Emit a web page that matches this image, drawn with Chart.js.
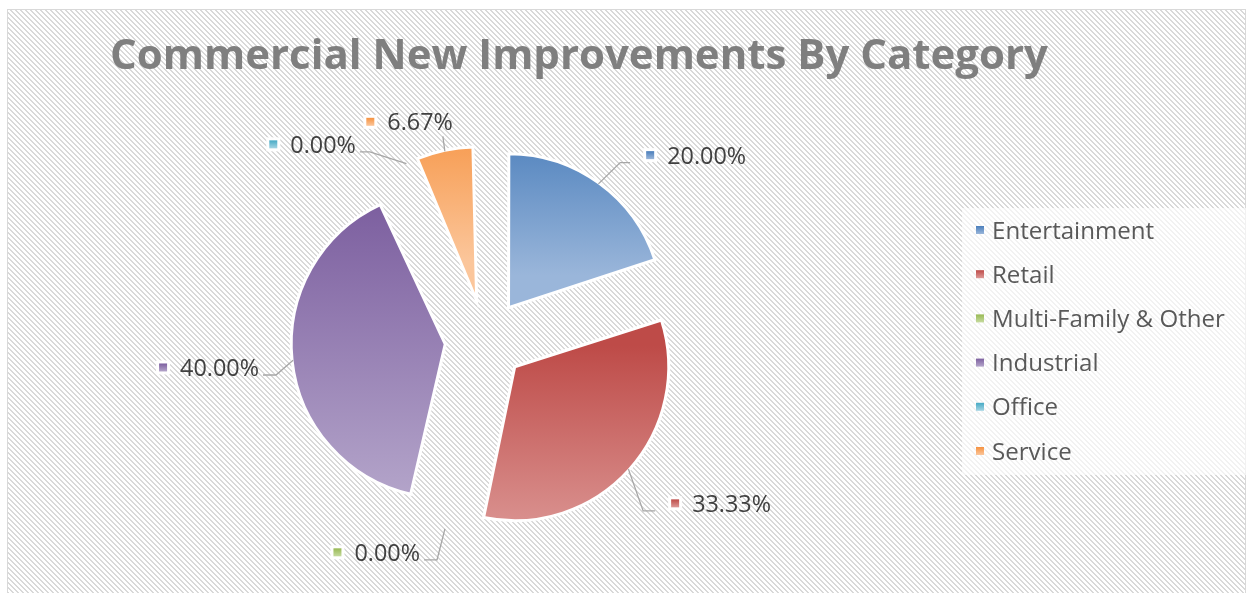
<!DOCTYPE html>
<html>
<head>
<meta charset="utf-8">
<title>Commercial New Improvements By Category</title>
<script src="https://cdn.jsdelivr.net/npm/chart.js@4.4.1/dist/chart.umd.min.js"></script>
<style>
  html, body { margin: 0; padding: 0; background: #fff; }
  #wrap { width: 1253px; height: 593px; }
</style>
</head>
<body>
<div id="wrap"><canvas id="pie" width="1253" height="593"></canvas></div>
<script>
const titleText = 'Commercial New Improvements By Category';
const categories = ['Entertainment', 'Retail', 'Multi-Family & Other', 'Industrial', 'Office', 'Service'];
const shares = [20.00, 33.33, 0.00, 40.00, 0.00, 6.67];

// office-style colours, darker at the top of each slice, lighter at the bottom
const topColors = ['#4a7ebb', '#be4b48', '#98b954', '#7d60a0', '#46aac5', '#f69240'];
const bottomColors = ['#9ab6da', '#dd9a98', '#c6db9f', '#b4a5ca', '#a5d5e4', '#fbc69b'];

const RADIUS = 154;   // arc radius incl. half of the white border
const RIM = 153;      // visible rim, where leader lines start
const EXPLODE = 40;
const FONT = "'Open Sans', sans-serif";

// where each data label sits: angle tweak (deg), leader length past the rim, horizontal run
const callouts = [
  { da: 1.6, dr: 30, run: 10, side: 'right', v: 'bottom' },
  { da: 6.3, dr: 40, run: 12, side: 'right', v: 'bottom' },
  { da: 0.4, dr: 32, run: -13, side: 'left', v: 'bottom' },
  { da: -4.3, dr: 19, run: -13, side: 'left', v: 'bottom' },
  { da: -9.1, dr: 28, run: -10, side: 'left', v: 'bottom' },
  { da: 0.4, dr: 15, run: 0, side: 'up', v: 'up' }
];

const total = shares.reduce((a, b) => a + b, 0);

function fitSize(ctx, text, width, weight) {
  ctx.font = weight + ' 100px ' + FONT;
  return 100 * width / ctx.measureText(text).width;
}

function hatch(ctx) {
  const tile = document.createElement('canvas');
  tile.width = 5; tile.height = 5;
  const t = tile.getContext('2d');
  t.fillStyle = '#ffffff';
  t.fillRect(0, 0, 5, 5);
  t.fillStyle = '#d9d9d9';
  for (let y = 0; y < 5; y++) {
    for (let x = 0; x < 5; x++) {
      if (((x - y) % 5 + 5) % 5 < 2) t.fillRect(x, y, 1, 1);
    }
  }
  return ctx.createPattern(tile, 'repeat');
}

function markerFill(ctx, i, y0, y1) {
  const g = ctx.createLinearGradient(0, y0, 0, y1);
  g.addColorStop(0, topColors[i]);
  g.addColorStop(1, bottomColors[i]);
  return g;
}

// vertical gradient spanning each exploded slice
function sliceFill(c) {
  const chart = c.chart;
  const area = chart.chartArea;
  const i = c.dataIndex;
  if (!area) return topColors[i];
  let before = 0;
  for (let k = 0; k < i; k++) before += shares[k];
  const a0 = -Math.PI / 2 + 2 * Math.PI * before / total;
  const a1 = a0 + 2 * Math.PI * shares[i] / total;
  const mid = (a0 + a1) / 2;
  const cy = (area.top + area.bottom) / 2 + Math.sin(mid) * EXPLODE;
  let minY = cy, maxY = cy;
  for (let s = 0; s <= 40; s++) {
    const y = cy + Math.sin(a0 + (a1 - a0) * s / 40) * RADIUS;
    minY = Math.min(minY, y);
    maxY = Math.max(maxY, y);
  }
  return markerFill(chart.ctx, i, minY, maxY);
}

const decor = {
  id: 'decor',
  beforeDraw(chart) {
    const ctx = chart.ctx;
    ctx.save();
    ctx.fillStyle = '#ffffff';
    ctx.fillRect(0, 0, chart.width, chart.height);
    ctx.fillStyle = hatch(ctx);
    ctx.fillRect(8, 10, chart.width - 16, chart.height - 10);
    ctx.strokeStyle = '#d9d9d9';
    ctx.lineWidth = 1;
    ctx.strokeRect(7.5, 9.5, chart.width - 15, chart.height + 10);
    ctx.fillStyle = 'rgba(255,255,255,0.65)';
    ctx.fillRect(962, 208, 284, 267);
    ctx.restore();
  },
  afterDatasetsUpdate(chart) {
    // arc.draw grows small slices by offset/4 * fix; undo it so every slice has the same radius
    chart.getDatasetMeta(0).data.forEach(arc => {
      const off = (arc.options.offset || 0) / 4;
      const fix = 1 - Math.sin(Math.min(Math.PI, arc.circumference || 0));
      arc.outerRadius = RADIUS - off * fix;
    });
  },
  afterDatasetsDraw(chart) {
    const ctx = chart.ctx;
    const size = fitSize(ctx, '33.33%', 79, 'normal');
    ctx.save();
    ctx.font = 'normal ' + size + 'px ' + FONT;
    const capH = ctx.measureText('0').actualBoundingBoxAscent;
    chart.getDatasetMeta(0).data.forEach((arc, i) => {
      const cfg = callouts[i];
      const a = (arc.startAngle + arc.endAngle) / 2;
      const cx = arc.x + Math.cos(a) * EXPLODE;
      const cy = arc.y + Math.sin(a) * EXPLODE;
      const at = (ang, r) => [cx + Math.cos(ang) * r, cy + Math.sin(ang) * r];
      const ea = a + cfg.da * Math.PI / 180;
      const start = at(a, RIM);
      const elbow = at(ea, RIM + cfg.dr);
      const end = [elbow[0] + cfg.run, elbow[1]];

      ctx.strokeStyle = '#a6a6a6';
      ctx.lineWidth = 1.3;
      ctx.beginPath();
      ctx.moveTo(start[0], start[1]);
      ctx.lineTo(elbow[0], elbow[1]);
      ctx.lineTo(end[0], end[1]);
      ctx.stroke();

      const text = (shares[i] / total * 100).toFixed(2) + '%';
      const tw = ctx.measureText(text).width;
      let textLeft, baseline;
      if (cfg.side === 'right') textLeft = end[0] + 37;
      else if (cfg.side === 'left') textLeft = end[0] - 4 - tw;
      else textLeft = end[0] + 10 - tw;
      if (cfg.v === 'bottom') baseline = elbow[1] + 1;
      else if (cfg.v === 'middle') baseline = elbow[1] + capH / 2;
      else baseline = elbow[1] - 6;

      const my = baseline - capH / 2;
      const mx = textLeft - 21;
      ctx.fillStyle = '#ffffff';
      ctx.fillRect(mx - 3, my - 7, 14, 14);
      ctx.fillStyle = markerFill(ctx, i, my - 4, my + 4);
      ctx.fillRect(mx, my - 4, 8, 8);

      ctx.fillStyle = '#404040';
      ctx.textBaseline = 'alphabetic';
      ctx.textAlign = 'left';
      ctx.fillText(text, textLeft, baseline);
    });
    ctx.restore();
  },
  afterDraw(chart) {
    const ctx = chart.ctx;
    ctx.save();
    // title
    const ts = fitSize(ctx, titleText, 938, 'bold');
    ctx.font = 'bold ' + ts + 'px ' + FONT;
    ctx.fillStyle = '#7f7f7f';
    ctx.textAlign = 'center';
    ctx.textBaseline = 'alphabetic';
    ctx.fillText(titleText, 579, 69);

    // legend
    const ls = fitSize(ctx, 'Multi-Family & Other', 233, 'normal');
    ctx.font = 'normal ' + ls + 'px ' + FONT;
    const capH = ctx.measureText('E').actualBoundingBoxAscent;
    ctx.textAlign = 'left';
    categories.forEach((name, i) => {
      const cyRow = 230 + i * 44.2;
      ctx.fillStyle = markerFill(ctx, i, cyRow - 4, cyRow + 4);
      ctx.fillRect(976, cyRow - 4, 8, 8);
      ctx.fillStyle = '#595959';
      ctx.fillText(name, 992, cyRow + capH / 2);
    });
    ctx.restore();
  }
};

new Chart(document.getElementById('pie'), {
  type: 'pie',
  data: {
    labels: categories,
    datasets: [{
      data: shares,
      backgroundColor: sliceFill,
      borderColor: '#ffffff',
      borderWidth: 3,
      borderJoinStyle: 'miter',
      offset: 4 * EXPLODE
    }]
  },
  options: {
    responsive: false,
    devicePixelRatio: 1,
    animation: false,
    radius: RADIUS,
    layout: { padding: { left: 0, right: 283, top: 100, bottom: 13 } },
    plugins: {
      legend: { display: false },
      title: { display: false },
      tooltip: { enabled: false }
    }
  },
  plugins: [decor]
});
</script>
</body>
</html>
